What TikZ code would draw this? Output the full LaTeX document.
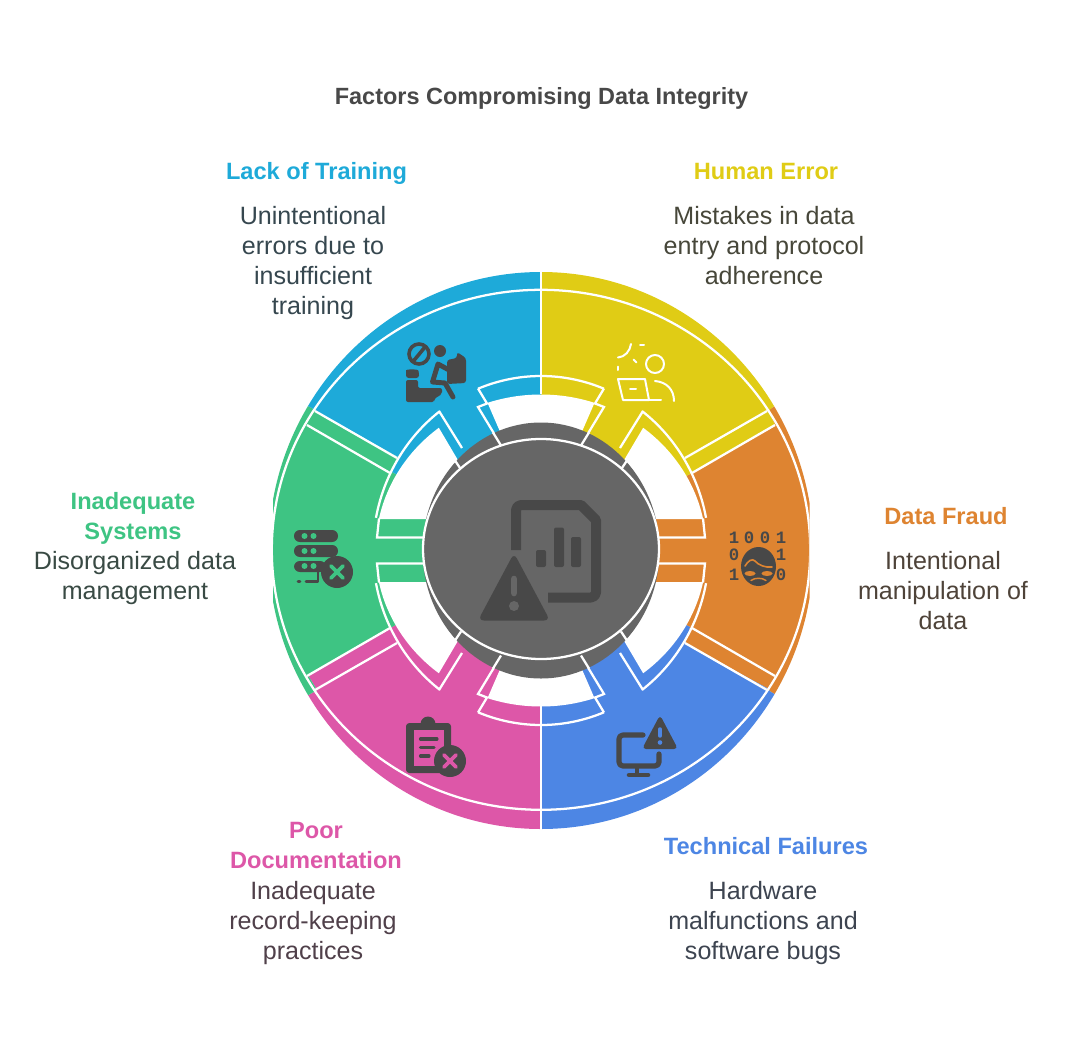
\documentclass[tikz,border=0pt]{standalone}
\usepackage{fontspec}
\setmainfont{Liberation Sans}
\newfontfamily\digitfont{Liberation Mono}
\definecolor{cyel}{HTML}{E0CC15}
\definecolor{cora}{HTML}{DE8431}
\definecolor{cblu}{HTML}{4D86E4}
\definecolor{cpin}{HTML}{DD57A8}
\definecolor{cgre}{HTML}{3EC483}
\definecolor{ccya}{HTML}{1EAAD9}
\definecolor{cgray}{HTML}{666666}
\definecolor{cdark}{HTML}{484848}
\definecolor{tyel}{HTML}{47473A}
\definecolor{tora}{HTML}{4E4339}
\definecolor{tblu}{HTML}{3D4450}
\definecolor{tpin}{HTML}{50404A}
\definecolor{tgre}{HTML}{394A44}
\definecolor{tcya}{HTML}{36474F}
\tikzset{
  wl/.style={draw=white,line width=1.7pt},
  lab/.style={font=\fontsize{17.7}{22.5}\selectfont\bfseries,align=center,inner sep=0pt,execute at begin node=\strut,execute at end node=\strut},
  body/.style={font=\fontsize{18.8}{22.5}\selectfont,align=center,inner sep=0pt,execute at begin node=\strut,execute at end node=\strut},
  ico/.style={draw=cdark,line cap=round,line join=round},
  wi/.style={draw=white,line width=1.5pt,line cap=round,line join=round},
  digit/.style={font=\digitfont\bfseries\fontsize{13}{13}\selectfont,text=cdark,inner sep=0pt},
}
\begin{document}
\begin{tikzpicture}[x=0.75pt,y=-0.75pt]
\useasboundingbox (0,0) rectangle (1075,1046);
\fill[white] (0,0) rectangle (1075,1046);
% wedges
\begin{scope}
\clip (273,200) rectangle (809.5,900);
\clip (541,550.5) ellipse [x radius=272.5,y radius=278.5];
\fill[cora] (541,550) -- (692,473) -- (775,425) -- (768,411) -- (773,407) -- (800,392) -- (950,200) -- (950,900) -- (800,708) -- (771,692) -- (767,688) -- (685,644) -- (690,627) -- cycle;
\fill[cyel] (541,550) -- (541,200) -- (950,200) -- (800,392) -- (773,407) -- (768,411) -- (775,425) -- (692,473) -- cycle;
\fill[cblu] (541,550) -- (690,627) -- (685,644) -- (767,688) -- (771,692) -- (800,708) -- (950,900) -- (541,900) -- cycle;
\fill[cpin] (541,550) -- (541,900) -- (200,900) -- (285,708) -- (312,693) -- (317,690) -- (308,675) -- (392,627) -- cycle;
\fill[cgre] (541,550) -- (392,627) -- (308,675) -- (317,690) -- (312,693) -- (285,708) -- (200,900) -- (200,200) -- (285,395) -- (312,408) -- (317,412) -- (398,457) -- (392,472) -- cycle;
\fill[ccya] (541,550) -- (392,472) -- (398,457) -- (317,412) -- (312,408) -- (285,395) -- (200,200) -- (541,200) -- cycle;
\draw[wl] (541,549.8) ellipse [x radius=269.2,y radius=260];
\end{scope}
\draw[wl] (541,270) -- (541,394);
\draw[wl] (541,706) -- (541,830);
% holes and white lines, one quadrant mirrored four times
\foreach \sx/\sy in {1/1,1/-1,-1/1,-1/-1}{
\begin{scope}[shift={(541,550.5)},xscale=\sx,yscale=\sy]
  \begin{scope}
    \clip (79,-83.5) -- (102,-122.5) -- (139,-160.5) -- (219,-130.5) -- (219,-31.5) -- (59,-31.5) -- (59,-83.5) -- cycle;
    \fill[white] (0,0) ellipse [x radius=165.5,y radius=156];
  \end{scope}
  \begin{scope}
    \clip (0,-110) -- (37,-110) -- (43,-123.5) -- (53,-146.5) -- (60,-200) -- (0,-200) -- cycle;
    \fill[white] (0,0) ellipse [x radius=165.5,y radius=156];
  \end{scope}
  \draw[wl] (-90:168 and 174.5) arc [start angle=-90,end angle=-68,x radius=168,y radius=174.5];
  \draw[wl] (-53:168 and 174.5) arc [start angle=-53,end angle=-10.8,x radius=168,y radius=174.5];
  \draw[wl,line join=miter] (63,-162) -- (54,-147) -- (63,-143.5) -- (40,-105.5);
  \draw[wl] (102,-139.5) -- (79,-102.5);
  \draw[wl] (144,-92.5) -- (226,-139.5);
  \draw[wl] (151,-77.5) -- (234,-125.5);
  \draw[wl,line join=miter] (117,-13) -- (164,-13) -- (162,-32);
\end{scope}}
% hub
\fill[cgray] (541,550.5) ellipse [x radius=118.5,y radius=128];
\foreach \sx/\sy in {1/1,1/-1,-1/1,-1/-1}{
\begin{scope}[shift={(541,550.5)},xscale=\sx,yscale=\sy]
  \draw[wl] (48,-118) -- (40,-105);
  \draw[wl] (88,-93) -- (80,-81);
\end{scope}}
\draw[wl,fill=cgray] (541,549) ellipse [x radius=118,y radius=110];
% hub icon
\draw[draw=cdark,line width=7.5pt,line join=round] (516,550) -- (516,510) arc [start angle=180,end angle=270,radius=5] -- (581,505) -- (596,520) -- (596,592.5) arc [start angle=0,end angle=90,radius=5] -- (548,597.5);
\fill[cdark,rounded corners=1.5pt] (536,550) rectangle (546,567);
\fill[cdark,rounded corners=1.5pt] (554,527.5) rectangle (564,567);
\fill[cdark,rounded corners=1.5pt] (571,537) rectangle (581,567);
\fill[cdark,rounded corners=4.5pt] (514,553) -- (478,620.5) -- (550,620.5) -- cycle;
\draw[cgray,line width=5pt,line cap=round] (514,579) -- (514,593);
\fill[cgray] (514,606) circle [radius=5];
% human error icon
\draw[wi] (655,364) circle [radius=9];
\draw[wi] (655,381) .. controls (667,382) and (674,390) .. (674,401);
\draw[wi] (618,379) -- (645,379) -- (649,400) -- (623,400) -- cycle;
\draw[wi] (649,400) -- (661,400);
\draw[wi] (630,389) -- (636,389);
\draw[wi] (631,344) .. controls (630,351) and (625,357) .. (618,357.5);
\draw[wi] (640,344.5) -- (644,344.5);
\draw[wi] (633.5,359.5) -- (636.5,362.5);
\draw[wi] (618,366.5) -- (618,370);
% digits and masked face
\foreach \nm/\px/\py/\d in {da/734/538/1,db/749/538/0,dc/765/538/0,dd/781/538/1,de/734/555/0,df/781/555/1,dg/734/575/1,dh/781/575/0}{
  \node[digit] (\nm) at (\px,\py) {\d};
}
\fill[cdark] (758.5,566.5) ellipse [x radius=17.5,y radius=19.5];
\draw[cora,line width=1.2pt,line cap=round] (745,566) .. controls (748,561) and (752,558) .. (755,561) .. controls (758,565) and (766,568) .. (772,567);
\fill[cora] (750,573.5) ellipse [x radius=5.5,y radius=2.5];
\fill[cora] (767,573.5) ellipse [x radius=5.5,y radius=2.5];
\draw[cora,line width=1.1pt,line cap=round] (751,580.5) .. controls (755,577.5) and (762,577.5) .. (766,580.5);
% monitor icon
\draw[ico,line width=3.9pt,rounded corners=3pt] (643,735) -- (619,735) -- (619,766) -- (659,766) -- (659,754);
\draw[ico,line width=3.4pt] (637,768) -- (637,774);
\draw[ico,line width=3.4pt] (629,775) -- (648,775);
\fill[cdark,rounded corners=3pt] (660,715) -- (642,749) -- (678,749) -- cycle;
\draw[cblu,line width=2.6pt,line cap=round] (660,729) -- (660,736);
\fill[cblu] (660,742.5) circle [radius=2.3];
% clipboard icon
\fill[cdark,rounded corners=2.5pt] (406,723) rectangle (451,773);
\fill[cdark] (428,724) circle [radius=7.5];
\fill[cpin] (413.5,729.5) rectangle (444,766);
\draw[ico,line width=2.3pt] (420.5,739) -- (437,739);
\draw[ico,line width=2.3pt] (420.5,747.5) -- (434,747.5);
\draw[ico,line width=2.3pt] (420.5,756) -- (429,756);
\fill[cdark] (450,761) circle [radius=16];
\draw[cpin,line width=2.9pt,line cap=round] (444,755) -- (456,767);
\draw[cpin,line width=2.9pt,line cap=round] (444,767) -- (456,755);
% server icon
\fill[cdark,rounded corners=4.4pt] (294,530) rectangle (338,542);
\fill[cdark,rounded corners=4.4pt] (294,545) rectangle (338,557);
\fill[cdark,rounded corners=4.4pt] (294,561) rectangle (326,572);
\foreach \dy in {536,551,566}{
  \fill[cgre] (304.5,\dy) circle [radius=3];
  \fill[cgre] (313.5,\dy) circle [radius=3];
}
\draw[ico,line width=2.2pt] (298,581.5) -- (300,581.5);
\draw[ico,line width=2.2pt] (306,581.5) -- (318,581.5) -- (318,572);
\fill[cdark] (337,572) circle [radius=16];
\draw[cgre,line width=2.9pt,line cap=round] (331,566) -- (343,578);
\draw[cgre,line width=2.9pt,line cap=round] (331,578) -- (343,566);
% toilet and person icon
\draw[ico,line width=2.7pt] (419,354) circle [radius=10];
\draw[ico,line width=2.7pt] (413.5,361) -- (425,347);
\fill[cdark] (440,351) circle [radius=6];
\fill[cdark,rounded corners=2pt] (457,352) -- (466,358) -- (466,383) -- (447,384) -- (447,360) -- (457,358) -- cycle;
\draw[ico,line width=3.7pt] (449,370) -- (438,364) -- (432.5,382) -- (445,383) -- (453,397);
\fill[cdark,rounded corners=2pt] (406,378) -- (406,373) .. controls (406,369) and (418,369) .. (419,373) -- (419,378) -- cycle;
\fill[cdark,rounded corners=1.5pt] (406,380) -- (418,380) -- (418,388) -- (442,388) -- (442,394) -- (434,399) -- (434,402) -- (406,402) -- cycle;
% texts
\node[font=\fontsize{17.6}{22.5}\selectfont\bfseries,text=cdark,inner sep=0pt,execute at begin node=\strut] (title) at (541.5,98.5) {Factors Compromising Data Integrity};
\node[lab,text=ccya] (t1) at (316.5,173.7) {Lack of Training};
\node[body,text=tcya] (b1) at (313,264.7) {Unintentional\\errors due to\\insufficient\\training};
\node[lab,text=cyel] (t2) at (766,173.7) {Human Error};
\node[body,text=tyel] (b2) at (764,249.7) {Mistakes in data\\entry and protocol\\adherence};
\node[lab,text=cora] (t3) at (946,518.7) {Data Fraud};
\node[body,text=tora] (b3) at (943,594.7) {Intentional\\manipulation of\\data};
\node[lab,text=cblu] (t4) at (766,848.7) {Technical Failures};
\node[body,text=tblu] (b4) at (763,924.7) {Hardware\\malfunctions and\\software bugs};
\node[lab,text=cpin] (t5) at (316,850.2) {Poor\\Documentation};
\node[body,text=tpin] (b5) at (313,924.7) {Inadequate\\record-keeping\\practices};
\node[lab,text=cgre] (t6) at (133,520.2) {Inadequate\\Systems};
\node[body,text=tgre] (b6) at (135,579.7) {Disorganized data\\management};
\end{tikzpicture}
\end{document}
